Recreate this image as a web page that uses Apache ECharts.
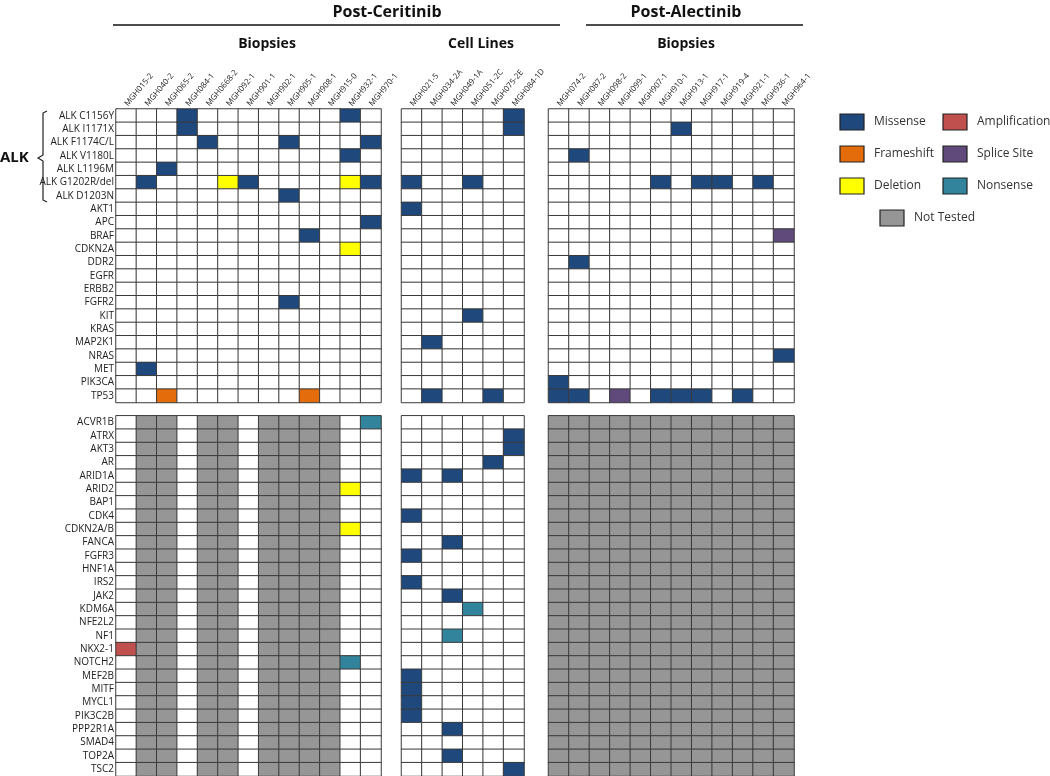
<!DOCTYPE html>
<html>
<head>
<meta charset="utf-8">
<title>Post-Ceritinib / Post-Alectinib mutations</title>
<script src="https://cdn.jsdelivr.net/npm/echarts@6.0.0/dist/echarts.min.js"></script>
<style>
html, body {margin:0; padding:0; background:#fff;}
#main {width:1050px; height:776px;}
</style>
</head>
<body>
<div id="main"></div>
<script>
// genes, top panel (targeted panel) and bottom panel (extended panel)
var topGenes = ['ALK C1156Y','ALK I1171X','ALK F1174C/L','ALK V1180L','ALK L1196M','ALK G1202R/del','ALK D1203N',
    'AKT1','APC','BRAF','CDKN2A','DDR2','EGFR','ERBB2','FGFR2','KIT','KRAS','MAP2K1','NRAS','MET','PIK3CA','TP53'];
var bottomGenes = ['ACVR1B','ATRX','AKT3','AR','ARID1A','ARID2','BAP1','CDK4','CDKN2A/B','FANCA','FGFR3','HNF1A','IRS2',
    'JAK2','KDM6A','NFE2L2','NF1','NKX2-1','NOTCH2','MEF2B','MITF','MYCL1','PIK3C2B','PPP2R1A','SMAD4','TOP2A','TSC2'];

// samples
var ceritinibBiopsies = ['MGH015-2','MGH040-2','MGH065-2','MGH084-1','MGH0668-2','MGH092-1','MGH901-1','MGH902-1',
    'MGH905-1','MGH908-1','MGH915-0','MGH932-1','MGH970-1'];
var cellLines = ['MGH021-5','MGH034-2A','MGH049-1A','MGH051-2C','MGH075-2E','MGH084-1D'];
var alectinibBiopsies = ['MGH074-2','MGH087-2','MGH098-2','MGH099-1','MGH907-1','MGH910-1','MGH913-1','MGH917-1',
    'MGH919-4','MGH921-1','MGH936-1','MGH964-1'];

var mutationTypes = ['None','Missense','Frameshift','Deletion','Amplification','Splice Site','Nonsense','Not Tested'];
var mutationColors = ['#ffffff','#1F497D','#E46C0A','#FFFF00','#C0504D','#604A7B','#31849B','#969696'];

// [sample, gene, type]
var ceritinibBiopsyHits = [
    ['MGH084-1','ALK C1156Y','Missense'], ['MGH932-1','ALK C1156Y','Missense'],
    ['MGH084-1','ALK I1171X','Missense'],
    ['MGH0668-2','ALK F1174C/L','Missense'], ['MGH905-1','ALK F1174C/L','Missense'], ['MGH970-1','ALK F1174C/L','Missense'],
    ['MGH932-1','ALK V1180L','Missense'],
    ['MGH065-2','ALK L1196M','Missense'],
    ['MGH040-2','ALK G1202R/del','Missense'], ['MGH092-1','ALK G1202R/del','Deletion'], ['MGH901-1','ALK G1202R/del','Missense'],
    ['MGH932-1','ALK G1202R/del','Deletion'], ['MGH970-1','ALK G1202R/del','Missense'],
    ['MGH905-1','ALK D1203N','Missense'],
    ['MGH970-1','APC','Missense'],
    ['MGH908-1','BRAF','Missense'],
    ['MGH932-1','CDKN2A','Deletion'],
    ['MGH905-1','FGFR2','Missense'],
    ['MGH040-2','MET','Missense'],
    ['MGH065-2','TP53','Frameshift'], ['MGH908-1','TP53','Frameshift'],
    ['MGH970-1','ACVR1B','Nonsense'],
    ['MGH932-1','ARID2','Deletion'],
    ['MGH932-1','CDKN2A/B','Deletion'],
    ['MGH015-2','NKX2-1','Amplification'],
    ['MGH932-1','NOTCH2','Nonsense']
];
var cellLineHits = [
    ['MGH084-1D','ALK C1156Y','Missense'], ['MGH084-1D','ALK I1171X','Missense'],
    ['MGH021-5','ALK G1202R/del','Missense'], ['MGH051-2C','ALK G1202R/del','Missense'],
    ['MGH021-5','AKT1','Missense'],
    ['MGH051-2C','KIT','Missense'],
    ['MGH034-2A','MAP2K1','Missense'],
    ['MGH034-2A','TP53','Missense'], ['MGH075-2E','TP53','Missense'],
    ['MGH084-1D','ATRX','Missense'], ['MGH084-1D','AKT3','Missense'], ['MGH075-2E','AR','Missense'],
    ['MGH021-5','ARID1A','Missense'], ['MGH049-1A','ARID1A','Missense'],
    ['MGH021-5','CDK4','Missense'], ['MGH049-1A','FANCA','Missense'], ['MGH021-5','FGFR3','Missense'],
    ['MGH021-5','IRS2','Missense'], ['MGH049-1A','JAK2','Missense'], ['MGH051-2C','KDM6A','Nonsense'],
    ['MGH049-1A','NF1','Nonsense'],
    ['MGH021-5','MEF2B','Missense'], ['MGH021-5','MITF','Missense'], ['MGH021-5','MYCL1','Missense'],
    ['MGH021-5','PIK3C2B','Missense'], ['MGH049-1A','PPP2R1A','Missense'], ['MGH049-1A','TOP2A','Missense'],
    ['MGH084-1D','TSC2','Missense']
];
var alectinibBiopsyHits = [
    ['MGH913-1','ALK I1171X','Missense'],
    ['MGH087-2','ALK V1180L','Missense'],
    ['MGH910-1','ALK G1202R/del','Missense'], ['MGH917-1','ALK G1202R/del','Missense'],
    ['MGH919-4','ALK G1202R/del','Missense'], ['MGH936-1','ALK G1202R/del','Missense'],
    ['MGH964-1','BRAF','Splice Site'],
    ['MGH087-2','DDR2','Missense'],
    ['MGH964-1','NRAS','Missense'],
    ['MGH074-2','PIK3CA','Missense'],
    ['MGH074-2','TP53','Missense'], ['MGH087-2','TP53','Missense'], ['MGH099-1','TP53','Splice Site'],
    ['MGH910-1','TP53','Missense'], ['MGH913-1','TP53','Missense'], ['MGH917-1','TP53','Missense'],
    ['MGH921-1','TP53','Missense']
];

// samples without the extended panel (bottom block)
var ceritinibNotTested = ['MGH040-2','MGH065-2','MGH0668-2','MGH092-1','MGH902-1','MGH905-1','MGH908-1','MGH915-0'];
var cellLinesNotTested = [];
var alectinibNotTested = alectinibBiopsies.slice();

var rowNames = topGenes.concat([''], bottomGenes);

function buildData(samples, hits, notTested) {
    var found = {};
    hits.forEach(function (h) {
        found[h[0] + '|' + h[1]] = mutationTypes.indexOf(h[2]);
    });
    var data = [];
    samples.forEach(function (s) {
        topGenes.forEach(function (g) {
            var v = found[s + '|' + g];
            data.push([s, g, v == null ? 0 : v]);
        });
        bottomGenes.forEach(function (g) {
            var v = found[s + '|' + g];
            if (v == null) {
                v = notTested.indexOf(s) >= 0 ? 7 : 0;
            }
            data.push([s, g, v]);
        });
    });
    return data;
}

var myChart = echarts.init(document.getElementById('main'));

var gridTop = 109, gridHeight = 667;
var grids = [
    {left: 116, top: gridTop, width: 265, height: gridHeight},
    {left: 401.5, top: gridTop, width: 122.5, height: gridHeight},
    {left: 548.5, top: gridTop, width: 245.5, height: gridHeight}
];
var groups = [ceritinibBiopsies, cellLines, alectinibBiopsies];

var xAxes = [], yAxes = [];
groups.forEach(function (samples, i) {
    xAxes.push({
        type: 'category',
        gridIndex: i,
        position: 'top',
        data: samples,
        axisLine: {show: false},
        axisTick: {show: false},
        splitLine: {show: false},
        axisLabel: {interval: 0, rotate: -50, fontSize: 8, color: '#222', fontFamily: 'Open Sans', margin: 4}
    });
    yAxes.push({
        type: 'category',
        gridIndex: i,
        inverse: true,
        data: rowNames,
        axisLine: {show: false},
        axisTick: {show: false},
        splitLine: {show: false},
        axisLabel: {show: i === 0, interval: 0, fontSize: 10, color: '#222', fontFamily: 'Open Sans', margin: 2}
    });
});

var seriesData = [
    buildData(ceritinibBiopsies, ceritinibBiopsyHits, ceritinibNotTested),
    buildData(cellLines, cellLineHits, cellLinesNotTested),
    buildData(alectinibBiopsies, alectinibBiopsyHits, alectinibNotTested)
];

var series = [];
for (var index = 0; index < seriesData.length; index++) {
    series.push({
        type: 'heatmap',
        xAxisIndex: index,
        yAxisIndex: index,
        data: seriesData[index],
        itemStyle: {borderColor: '#3a3a3a', borderWidth: 1},
        emphasis: {disabled: true}
    });
}

var pieces = mutationTypes.map(function (t, i) {
    return {value: i, label: t, color: mutationColors[i]};
});

// legend drawn as swatches + text
var legendGraphics = [];
var legendItems = [
    ['Missense', 840, 114], ['Amplification', 943, 114],
    ['Frameshift', 840, 146], ['Splice Site', 943, 146],
    ['Deletion', 840, 178], ['Nonsense', 943, 178],
    ['Not Tested', 880, 210]
];
legendItems.forEach(function (it) {
    legendGraphics.push({
        type: 'rect',
        shape: {x: it[1], y: it[2], width: 24, height: 16},
        style: {fill: mutationColors[mutationTypes.indexOf(it[0])], stroke: '#222', lineWidth: 1.2}
    });
    legendGraphics.push({
        type: 'text',
        x: it[1] + 34, y: it[2] + 8,
        style: {text: it[0], fontSize: 12, fontFamily: 'Open Sans', fill: '#333', align: 'left', verticalAlign: 'middle'}
    });
});

var headerGraphics = [
    {type: 'text', x: 387, y: 12, style: {text: 'Post-Ceritinib', fontSize: 16, fontWeight: 'bold', fontFamily: 'Open Sans', fill: '#111', align: 'center', verticalAlign: 'middle'}},
    {type: 'text', x: 686, y: 12, style: {text: 'Post-Alectinib', fontSize: 16, fontWeight: 'bold', fontFamily: 'Open Sans', fill: '#111', align: 'center', verticalAlign: 'middle'}},
    {type: 'line', shape: {x1: 113, y1: 25, x2: 560, y2: 25}, style: {stroke: '#111', lineWidth: 1.5}},
    {type: 'line', shape: {x1: 586, y1: 25, x2: 803, y2: 25}, style: {stroke: '#111', lineWidth: 1.5}},
    {type: 'text', x: 267, y: 44, style: {text: 'Biopsies', fontSize: 14, fontWeight: 'bold', fontFamily: 'Open Sans', fill: '#111', align: 'center', verticalAlign: 'middle'}},
    {type: 'text', x: 481, y: 44, style: {text: 'Cell Lines', fontSize: 14, fontWeight: 'bold', fontFamily: 'Open Sans', fill: '#111', align: 'center', verticalAlign: 'middle'}},
    {type: 'text', x: 686, y: 44, style: {text: 'Biopsies', fontSize: 14, fontWeight: 'bold', fontFamily: 'Open Sans', fill: '#111', align: 'center', verticalAlign: 'middle'}},
    // ALK bracket
    {type: 'text', x: 0, y: 158, style: {text: 'ALK', fontSize: 15, fontWeight: 'bold', fontFamily: 'Open Sans', fill: '#111', align: 'left', verticalAlign: 'middle'}},
    {type: 'polyline', shape: {points: [[47, 111], [43, 113], [43, 155], [38, 158], [43, 161], [43, 200], [47, 202]]},
        style: {stroke: '#222', lineWidth: 1.2, fill: null}}
];

var option = {
    backgroundColor: '#ffffff',
    animation: false,
    grid: grids,
    xAxis: xAxes,
    yAxis: yAxes,
    visualMap: {
        type: 'piecewise',
        show: false,
        dimension: 2,
        seriesIndex: [0, 1, 2],
        pieces: pieces
    },
    graphic: headerGraphics.concat(legendGraphics),
    series: series
};

myChart.setOption(option);
</script>
</body>
</html>
